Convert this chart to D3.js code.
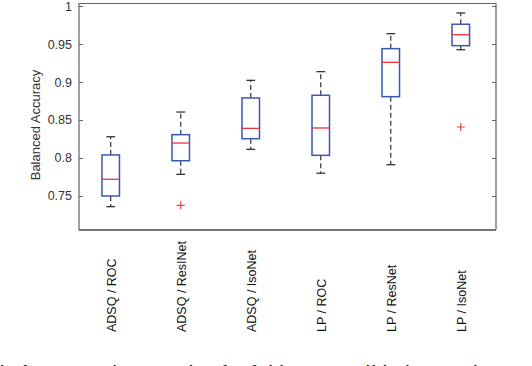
<!DOCTYPE html>
<html>
<head>
<meta charset="utf-8">
<script src="https://cdn.jsdelivr.net/npm/d3@7"></script>
<style>
  html, body { margin: 0; padding: 0; background: #fff; }
  svg { display: block; }
  text { font-family: "Liberation Sans", Arial, Helvetica, sans-serif; }
</style>
</head>
<body>
<div id="chart"></div>
<script>
// ---- data ----
const categories = ["ADSQ / ROC", "ADSQ / ResINet", "ADSQ / IsoNet", "LP / ROC", "LP / ResNet", "LP / IsoNet"];
const whiskerLow  = [0.736, 0.7785, 0.8114, 0.780, 0.7912, 0.9425];
const q1          = [0.750, 0.7964, 0.8254, 0.8035, 0.8807, 0.9478];
const medians     = [0.772, 0.8197, 0.839, 0.8395, 0.9259, 0.9622];
const q3          = [0.804, 0.8307, 0.879, 0.8825, 0.9439, 0.976];
const whiskerHigh = [0.828, 0.8605, 0.9022, 0.9136, 0.9636, 0.9908];
const outlierIndex = [1, 5];
const outlierValue = [0.7377, 0.8408];
const yTickValues = [0.75, 0.8, 0.85, 0.9, 0.95, 1];
const yTickLabels = ["0.75", "0.8", "0.85", "0.9", "0.95", "1"];
const yLabel = "Balanced Accuracy";
const caption = "ls fo Comparison study of 4-fold cross validation on the test";

const W = 532, H = 366;
const L = 79, R = 496, T = 3, B = 230;

const svg = d3.select("#chart").append("svg").attr("width", W).attr("height", H);

const x = d3.scaleLinear().domain([0.547, 6.503]).range([L, R]);
const y = d3.scaleLinear().domain([0.70526, 1.00395]).range([B, T]);
const boxW = x(1.25) - x(1);   // half-unit box width
const capW = boxW / 2;

const boxes = categories.map((c, i) => ({
  cat: c, pos: i + 1, lo: whiskerLow[i], q1: q1[i], med: medians[i], q3: q3[i], hi: whiskerHigh[i]
}));

// axes box
svg.append("line").attr("x1", L).attr("x2", R).attr("y1", T + 0.5).attr("y2", T + 0.5)
  .attr("stroke", "#666").attr("stroke-width", 1.2);
svg.append("line").attr("x1", L).attr("x2", R).attr("y1", B).attr("y2", B)
  .attr("stroke", "#444").attr("stroke-width", 1.3);

const yAxisL = svg.append("g").attr("transform", `translate(${L},0)`)
  .call(d3.axisLeft(y).tickValues(yTickValues).tickSize(-4).tickSizeOuter(0)
    .tickPadding(7).tickFormat((d, i) => yTickLabels[i]));
const yAxisR = svg.append("g").attr("transform", `translate(${R},0)`)
  .call(d3.axisRight(y).tickValues(yTickValues).tickSize(-4).tickSizeOuter(0)
    .tickFormat(() => ""));
[yAxisL, yAxisR].forEach(g => {
  g.select(".domain").attr("stroke", "#777").attr("stroke-width", 1.4)
    .attr("d", `M0,${T}V${B}`);
  g.selectAll(".tick line").attr("stroke", "#666").attr("stroke-width", 1);
});
yAxisL.selectAll(".tick text").attr("fill", "#333").style("font-size", "12.5px");

// x axis labels (rotated)
const xAxis = svg.append("g").attr("transform", `translate(0,${B})`)
  .call(d3.axisBottom(x).tickValues(boxes.map(b => b.pos)).tickSize(0)
    .tickFormat((d, i) => categories[i]));
xAxis.select(".domain").remove();
xAxis.selectAll(".tick text")
  .attr("transform", "rotate(-90)")
  .attr("x", -(332 - B)).attr("y", 0).attr("dy", "0.36em")
  .style("text-anchor", "start").style("font-size", "12.5px").attr("fill", "#111");

// y label
svg.append("text")
  .attr("transform", `translate(39.5,125) rotate(-90)`)
  .attr("text-anchor", "middle")
  .style("font-size", "13px").attr("fill", "#333")
  .text(yLabel);

// boxes
const g = svg.append("g");
const bx = g.selectAll("g.box").data(boxes).join("g").attr("class", "box");

// whiskers (dashed)
bx.append("line").attr("x1", d => x(d.pos)).attr("x2", d => x(d.pos))
  .attr("y1", d => y(d.q3)).attr("y2", d => y(d.hi))
  .attr("stroke", "#333").attr("stroke-width", 1.2).attr("stroke-dasharray", "5,3");
bx.append("line").attr("x1", d => x(d.pos)).attr("x2", d => x(d.pos))
  .attr("y1", d => y(d.q1)).attr("y2", d => y(d.lo))
  .attr("stroke", "#333").attr("stroke-width", 1.2).attr("stroke-dasharray", "5,3");
// caps
bx.append("line").attr("x1", d => x(d.pos) - capW / 2).attr("x2", d => x(d.pos) + capW / 2)
  .attr("y1", d => y(d.hi)).attr("y2", d => y(d.hi))
  .attr("stroke", "#333").attr("stroke-width", 1.3);
bx.append("line").attr("x1", d => x(d.pos) - capW / 2).attr("x2", d => x(d.pos) + capW / 2)
  .attr("y1", d => y(d.lo)).attr("y2", d => y(d.lo))
  .attr("stroke", "#333").attr("stroke-width", 1.3);
// box
bx.append("rect").attr("x", d => x(d.pos) - boxW / 2).attr("width", boxW)
  .attr("y", d => y(d.q3)).attr("height", d => y(d.q1) - y(d.q3))
  .attr("fill", "none").attr("stroke", "#3b55b3").attr("stroke-width", 1.5);
// median
bx.append("line").attr("x1", d => x(d.pos) - boxW / 2).attr("x2", d => x(d.pos) + boxW / 2)
  .attr("y1", d => y(d.med)).attr("y2", d => y(d.med))
  .attr("stroke", "#e8343a").attr("stroke-width", 1.3);

// outliers
const outliers = outlierIndex.map((k, i) => ({ pos: k + 1, v: outlierValue[i] }));
const og = g.selectAll("g.out").data(outliers).join("g").attr("class", "out")
  .attr("transform", d => `translate(${x(d.pos)},${y(d.v)})`);
og.append("path").attr("d", "M-4,0H4M0,-4V4")
  .attr("stroke", "#e8404a").attr("stroke-width", 1.2);

// caption, cut off at the bottom edge as in the reference
svg.append("text").attr("x", 0).attr("y", 375.5)
  .attr("textLength", 532).attr("lengthAdjust", "spacing")
  .style("font-size", "15px").style("font-weight", "bold").attr("fill", "#222")
  .text(caption);
</script>
</body>
</html>
